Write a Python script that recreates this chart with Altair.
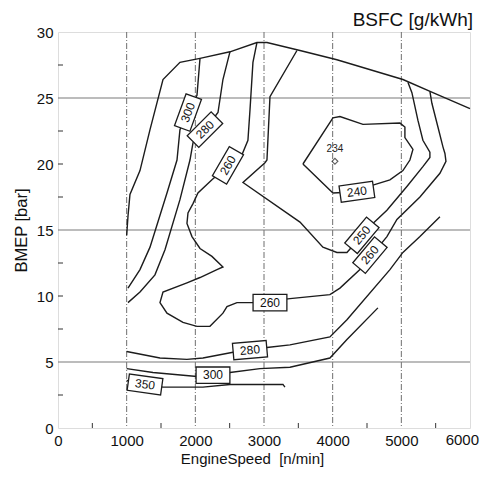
import altair as alt
import pandas as pd

# ---------------- contour polylines: EngineSpeed [n/min] vs BMEP [bar] ----------------
wot_x = [1000, 1020, 1048, 1194, 1340, 1529, 1776, 2068, 2504, 2897, 3043, 3524, 4062, 5023, 5460, 6000]
wot_y = [14.6, 16.1, 17.7, 19.5, 22.6, 26.4, 27.7, 28.0, 28.5, 29.2, 29.2, 28.6, 27.9, 26.4, 25.4, 24.2]

c300a_x = [2068, 2024, 1893, 1776, 1733, 1587, 1340, 1194, 1019]
c300a_y = [28.0, 25.2, 23.9, 22.6, 20.3, 17.8, 13.7, 12.0, 10.6]

c280a_x = [2504, 2402, 2330, 2140, 1966, 1922, 1776, 1558, 1412, 1194, 1019]
c280a_y = [28.5, 26.4, 23.9, 22.6, 21.6, 20.3, 17.3, 13.5, 11.6, 10.3, 9.5]

c260_x = [2897, 2839, 2796, 2766, 2679, 2461, 2242, 2038, 1966, 1893, 1878, 1951, 2068, 2242, 2402,
          2315, 2068, 1878, 1529, 1485, 1587, 1820, 2024, 2213, 2402, 2461, 2606, 2897, 3378, 3960,
          4106, 4397, 4790, 4936, 5271, 5562, 5650, 5635, 5606, 5533, 5445, 5416]
c260_y = [29.2, 27.7, 24.1, 21.8, 20.7, 19.8, 18.8, 17.8, 17.0, 16.3, 15.5, 14.5, 13.6, 13.0, 12.2,
          12.0, 11.4, 11.0, 10.3, 9.5, 8.7, 8.0, 7.7, 7.7, 8.7, 9.2, 9.5, 9.5, 9.8, 10.1,
          10.6, 12.0, 14.5, 15.8, 17.5, 19.3, 20.2, 20.8, 21.3, 22.8, 24.6, 25.5]

c250_x = [3480, 3087, 3043, 3014, 2694, 3524, 3858, 4062, 4208, 4426, 4586, 4790, 5081, 5314, 5416,
          5416, 5314, 5242, 5154, 5096]
c250_y = [28.6, 25.1, 20.3, 20.1, 18.6, 15.6, 13.7, 13.3, 13.3, 14.6, 15.5, 16.5, 18.3, 19.8, 20.5,
          20.9, 21.8, 23.3, 25.4, 26.2]

c240_x = [3567, 4004, 4106, 4441, 4980, 5052, 5052, 5169, 5125, 5023, 4834, 4586, 4353, 4004, 3567]
c240_y = [20.0, 23.5, 23.6, 23.0, 23.1, 22.8, 22.0, 21.1, 20.3, 19.5, 18.8, 18.4, 17.9, 17.8, 20.0]

c280b_x = [1000, 1485, 1878, 2111, 2606, 3043, 3378, 3960, 4208, 4834, 5023, 5271, 5562]
c280b_y = [5.8, 5.3, 5.2, 5.3, 5.8, 6.1, 6.3, 6.9, 8.2, 12.0, 13.3, 14.5, 16.0]

c300b_x = [1000, 1383, 2024, 2504, 2941, 3378, 3960, 4208, 4659]
c300b_y = [4.5, 4.2, 3.9, 4.2, 4.5, 4.6, 5.3, 6.7, 9.1]

c350_x = [1000, 1529, 2111, 2504, 3276, 3305]
c350_y = [3.6, 3.1, 3.1, 3.3, 3.3, 3.1]

# ---------------- contour labels ----------------
label_text = ["300", "280", "260", "240", "250", "260", "260", "280", "300", "350"]
label_x = [1893, 2140, 2475, 4353, 4426, 4543, 3087, 2796, 2257, 1267]
label_y = [23.9, 22.6, 19.9, 17.9, 14.6, 13.1, 9.5, 5.9, 4.0, 3.3]
label_angle = [290, 315, 300, 352, 310, 310, 0, 355, 0, 8]

# best point
best_x = [4033]
best_y = [20.2]
best_text = ["234"]

# grid / ticks
grid_x = [1000, 2000, 3000, 4000, 5000]
grid_y = [5, 15, 25]
tick_x = [500, 1500, 2500, 3500, 4500, 5500]
tick_y = [2.5, 7.5, 10, 12.5, 17.5, 20, 22.5, 27.5]
x_labels = [0, 1000, 2000, 3000, 4000, 5000, 6000]
y_labels = [0, 5, 10, 15, 20, 25, 30]
last_x_label = ["6000"]
title_text = ["BSFC [g/kWh]"]

# ---------------- build tables ----------------
segments = [
    ("wot", wot_x, wot_y), ("c300a", c300a_x, c300a_y), ("c280a", c280a_x, c280a_y),
    ("c260", c260_x, c260_y), ("c250", c250_x, c250_y), ("c240", c240_x, c240_y),
    ("c280b", c280b_x, c280b_y), ("c300b", c300b_x, c300b_y), ("c350", c350_x, c350_y),
]
rows = []
for name, xs_, ys_ in segments:
    for i, (a, b) in enumerate(zip(xs_, ys_)):
        rows.append({"seg": name, "i": i, "rpm": a, "bmep": b})
lines_df = pd.DataFrame(rows)
labels_df = pd.DataFrame({"rpm": label_x, "bmep": label_y, "txt": label_text, "ang": label_angle})
best_df = pd.DataFrame({"rpm": best_x, "bmep": best_y, "txt": best_text})
gx_df = pd.DataFrame({"rpm": grid_x})
gy_df = pd.DataFrame({"bmep": grid_y})
tx_df = pd.DataFrame({"rpm": tick_x})
ty_df = pd.DataFrame({"bmep": tick_y})
title_df = pd.DataFrame({"t": title_text})
last_df = pd.DataFrame({"t": last_x_label})

FONT = "Liberation Sans"
W, H = 412, 396
xsc = alt.Scale(domain=[0, 6000], nice=False, zero=False)
ysc = alt.Scale(domain=[0, 30], nice=False, zero=False)
x_axis = alt.Axis(values=x_labels, format="d", labelExpr="datum.value == 6000 ? '' : datum.label",
                  title="EngineSpeed\u00a0 [n/min]", titleX=194, grid=False, domain=False,
                  ticks=False, labelFontSize=15, labelFont=FONT, labelColor="#111", labelPadding=5,
                  titleFont=FONT, titleFontSize=15, titleFontWeight="normal", titleColor="#111",
                  titlePadding=3, labelFlush=False)
y_axis = alt.Axis(values=y_labels, format="d", title="BMEP [bar]", grid=False, domain=False, ticks=False,
                  labelFontSize=15, labelFont=FONT, labelColor="#111", labelPadding=5,
                  titleFont=FONT, titleFontSize=16.5, titleFontWeight="normal", titleColor="#111",
                  titlePadding=7, labelFlush=False)

X = alt.X("rpm:Q", scale=xsc, axis=x_axis)
Y = alt.Y("bmep:Q", scale=ysc, axis=y_axis)

grid_v = alt.Chart(gx_df).mark_rule(color="#6f6f6f", strokeWidth=1, strokeDash=[6, 2, 1, 2]).encode(x=X)
grid_h = alt.Chart(gy_df).mark_rule(color="#7a7a7a", strokeWidth=1.2).encode(y=Y)
ticks_x = alt.Chart(tx_df).mark_rule(color="#333", strokeWidth=1).encode(
    x=X, y=alt.value(H), y2=alt.value(H - 5))
ticks_y = alt.Chart(ty_df).mark_rule(color="#333", strokeWidth=1).encode(
    y=Y, x=alt.value(0), x2=alt.value(5))

contours = alt.Chart(lines_df).mark_line(color="#1c1c1c", strokeWidth=1.4, interpolate="linear").encode(
    x=X, y=Y, detail="seg:N", order="i:Q")

boxes = alt.Chart(labels_df).mark_point(
    shape="M-1.65,-0.8L1.65,-0.8L1.65,0.8L-1.65,0.8Z", size=420, filled=False,
    fill="white", fillOpacity=1, stroke="#1c1c1c", strokeWidth=1.3, opacity=1).encode(
    x=X, y=Y, angle=alt.Angle("ang:Q", scale=None))
texts = alt.Chart(labels_df).mark_text(font=FONT, fontSize=12, color="#111", align="center",
                                        baseline="middle").encode(
    x=X, y=Y, text="txt:N", angle=alt.Angle("ang:Q", scale=None))

best_pt = alt.Chart(best_df).mark_point(shape="diamond", size=34, filled=False, fill="white",
                                        stroke="#1c1c1c", strokeWidth=1.2).encode(x=X, y=Y)
best_txt = alt.Chart(best_df).mark_text(font=FONT, fontSize=10, color="#222", dy=-12).encode(
    x=X, y=Y, text="txt:N")

title_mark = alt.Chart(title_df).mark_text(font=FONT, fontSize=19, color="#111", align="right",
                                           baseline="middle").encode(
    text="t:N", x=alt.value(W + 3), y=alt.value(-12))

last_label = alt.Chart(last_df).mark_text(font=FONT, fontSize=15, color="#111", align="right",
                                          baseline="top").encode(
    text="t:N", x=alt.value(W + 9), y=alt.value(H + 5))

chart = alt.layer(grid_v, grid_h, ticks_x, ticks_y, contours, boxes, texts, best_pt, best_txt,
                  title_mark, last_label).properties(
    width=W, height=H,
    autosize=alt.AutoSizeParams(type="none"),
    padding={"left": 50, "top": 24, "right": 10, "bottom": 41},
).configure_view(stroke="#2a2a2a", strokeWidth=1.2).configure(background="white")

chart.save("out.html", embed_options={"renderer": "svg", "actions": False})
